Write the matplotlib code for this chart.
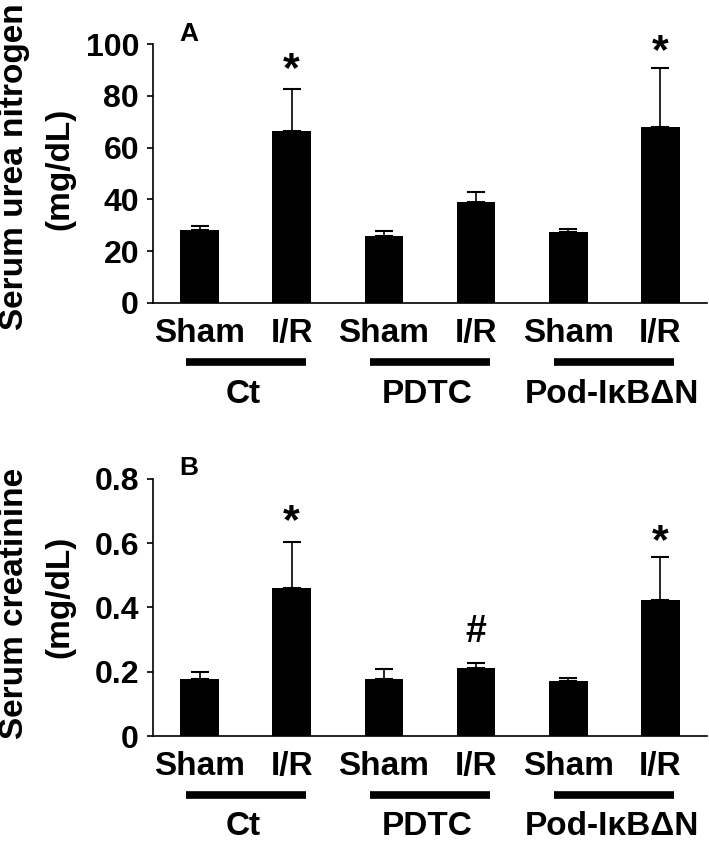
import matplotlib
matplotlib.use('Agg')
import matplotlib.pyplot as plt
import matplotlib.transforms as mtransforms

plt.rcParams['font.family'] = ['Liberation Sans', 'DejaVu Sans']
plt.rcParams['font.weight'] = 'bold'

# data
conds = ['Sham', 'I/R', 'Sham', 'I/R', 'Sham', 'I/R']
groups = ['Ct', 'PDTC', 'Pod-I\u03baB\u0394N']

bun_mean = [28.0, 66.5, 25.9, 39.0, 27.3, 68.0]
bun_err = [1.6, 16.0, 1.9, 4.0, 1.2, 22.7]

crea_mean = [0.178, 0.461, 0.177, 0.210, 0.172, 0.422]
crea_err = [0.021, 0.141, 0.032, 0.017, 0.009, 0.134]

# significance marks: (bar index, symbol, baseline offset above error bar in points)
bun_marks = [(1, '*', 6), (5, '*', 3.5)]
crea_marks = [(1, '*', 6.5), (3, '#', 15), (5, '*', 3)]

W, H = 709, 842
fig = plt.figure(figsize=(W / 100, H / 100), dpi=100)


def px_axes(left, top, right, bottom):
    return fig.add_axes([left / W, 1 - bottom / H, (right - left) / W, (bottom - top) / H])


def panel(ax, means, errs, marks, ymax, yticks, yticklabels, letter):
    x = list(range(len(means)))
    lower = [0] * len(means)
    ax.bar(x, means, width=0.42, color='black', zorder=2)
    ax.errorbar(x, means, yerr=[lower, errs], fmt='none', ecolor='black',
                elinewidth=1.2, capsize=6.5, capthick=1.5, zorder=1)
    ax.set_xlim(-0.505, len(means) - 0.495)
    ax.set_ylim(0, ymax)
    ax.set_yticks(yticks)
    ax.set_yticklabels(yticklabels, fontsize=23, fontweight='bold')
    ax.set_xticks(x)
    ax.set_xticklabels(conds, fontsize=24, fontweight='bold')
    ax.tick_params(axis='x', length=0, pad=11)
    ax.tick_params(axis='y', length=4, width=1.2, pad=6)
    for s in ['top', 'right']:
        ax.spines[s].set_visible(False)
    ax.spines['left'].set_linewidth(1.2)
    ax.spines['bottom'].set_linewidth(1.2)

    for i, sym, off in marks:
        ax.annotate(sym, (x[i], means[i] + errs[i]), xytext=(0, off),
                    textcoords='offset points', ha='center', va='baseline',
                    fontsize=31 if sym == '*' else 27, fontweight='bold')

    trans = mtransforms.blended_transform_factory(ax.transData, ax.transAxes)
    for g, name in enumerate(groups):
        c = 2 * g + 0.5
        ax.plot([c - 0.65, c + 0.65], [-0.229, -0.229], color='black', lw=5.5,
                solid_capstyle='butt', transform=trans, clip_on=False)
        ax.text(c - 0.03, -0.385, name, transform=trans, ha='center', va='baseline',
                fontsize=24, fontweight='bold')

    ax.text(-0.12, ymax * 1.04, letter, ha='center', va='center', fontsize=19,
            fontweight='bold', transform=ax.transData)


axA = px_axes(153, 44, 707, 303)
panel(axA, bun_mean, bun_err, bun_marks, 100, [0, 20, 40, 60, 80, 100],
      ['0', '20', '40', '60', '80', '100'], 'A')

axB = px_axes(153, 478.7, 707, 736)
panel(axB, crea_mean, crea_err, crea_marks, 0.8, [0, 0.2, 0.4, 0.6, 0.8],
      ['0', '0.2', '0.4', '0.6', '0.8'], 'B')

# two-line y labels
for line, xb, yc in [('Serum urea nitrogen', 23, 167), ('(mg/dL)', 68, 169),
                     ('Serum creatinine', 23, 603), ('(mg/dL)', 68, 597)]:
    fig.text(xb / W, 1 - yc / H, line, rotation=90, rotation_mode='anchor',
             ha='center', va='baseline', fontsize=24, fontweight='bold')

fig.savefig('out.png', dpi=100)
